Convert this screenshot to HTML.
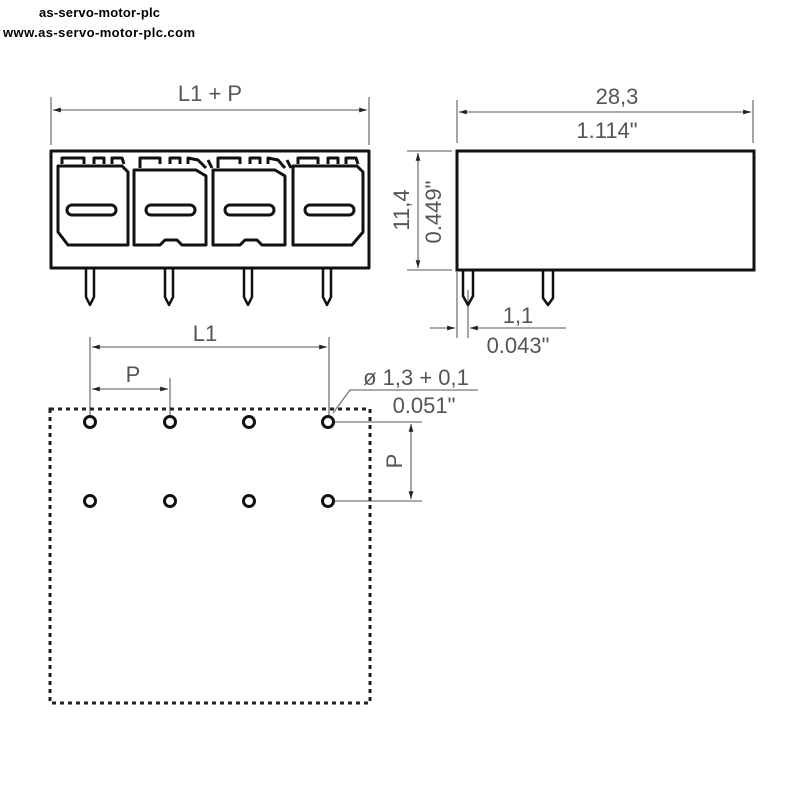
<!DOCTYPE html>
<html><head><meta charset="utf-8"><style>
html,body{margin:0;padding:0;background:#fff;}
svg{display:block;}
.t{font-family:"Liberation Sans",sans-serif;fill:#555;}
.b{font-family:"Liberation Sans",sans-serif;font-weight:bold;fill:#000;font-size:13px;}
</style></head><body>
<svg width="800" height="800" viewBox="0 0 800 800" xmlns="http://www.w3.org/2000/svg">
<defs>
<marker id="a" viewBox="0 0 10 10" refX="10" refY="5" markerWidth="8" markerHeight="6" orient="auto-start-reverse"><path d="M0,2 L10,5 L0,8 z" fill="#222"/></marker>
</defs>
<text class="b" x="39" y="17" textLength="121">as-servo-motor-plc</text>
<text class="b" x="3" y="37" textLength="192">www.as-servo-motor-plc.com</text>

<g stroke="#777" stroke-width="1.3" fill="none">
<line x1="51" y1="97" x2="51" y2="145"/><line x1="369" y1="97" x2="369" y2="145"/>
<line x1="53" y1="110" x2="367" y2="110" marker-start="url(#a)" marker-end="url(#a)"/>
<line x1="457" y1="100" x2="457" y2="143"/><line x1="753" y1="100" x2="753" y2="143"/>
<line x1="459" y1="112" x2="751" y2="112" marker-start="url(#a)" marker-end="url(#a)"/>
<line x1="407" y1="151" x2="452" y2="151"/><line x1="407" y1="270" x2="452" y2="270"/>
<line x1="418" y1="153" x2="418" y2="268" marker-start="url(#a)" marker-end="url(#a)"/>
<line x1="457" y1="272" x2="457" y2="338"/><line x1="468" y1="290" x2="468" y2="338"/>
<line x1="430" y1="328" x2="455" y2="328" marker-end="url(#a)"/>
<line x1="566" y1="328" x2="470" y2="328" marker-end="url(#a)"/>
<line x1="90" y1="337" x2="90" y2="415"/><line x1="329" y1="337" x2="329" y2="415"/>
<line x1="92" y1="347" x2="327" y2="347" marker-start="url(#a)" marker-end="url(#a)"/>
<line x1="170" y1="378" x2="170" y2="415"/>
<line x1="92" y1="389" x2="168" y2="389" marker-start="url(#a)" marker-end="url(#a)"/>
<polyline points="333,413 350,390 478,390"/>
<line x1="334" y1="422" x2="422" y2="422"/><line x1="334" y1="501" x2="422" y2="501"/>
<line x1="411" y1="424" x2="411" y2="499" marker-start="url(#a)" marker-end="url(#a)"/>
</g>

<g class="t" font-size="22" text-anchor="middle">
<text x="210" y="101">L1 + P</text>
<text x="617" y="104">28,3</text>
<text x="607" y="138">1.114"</text>
<text x="518" y="323">1,1</text>
<text x="518" y="353">0.043"</text>
<text x="205" y="341">L1</text>
<text x="133" y="382">P</text>
<text x="416" y="385">ø 1,3 + 0,1</text>
<text x="424" y="413">0.051"</text>
<text transform="translate(409,210) rotate(-90)">11,4</text>
<text transform="translate(441,212) rotate(-90)">0.449"</text>
<text transform="translate(402,461) rotate(-90)">P</text>
</g>

<g stroke="#111" stroke-width="3" fill="none" stroke-linejoin="round">
<rect x="51" y="151" width="318" height="117"/>
<path d="M58,170 L58,232 L68,245 L128,245 L128,172 L122,166 L58,166 Z"/>
<path d="M134,170 L134,245 L160,245 L165,240 L177,240 L182,245 L206,245 L206,176 L196,170 L134,170 Z"/>
<path d="M213,170 L213,245 L240,245 L245,240 L257,240 L262,245 L285,245 L285,176 L275,170 L213,170 Z"/>
<path d="M293,170 L293,245 L352,245 L363,232 L363,172 L357,166 L293,166 Z"/>
<path d="M62,164 L62,158 L84,158 L84,164 M94,164 L94,158 L104,158 L104,164 M112,164 L112,158 L122,158 L124,164"/>
<path d="M140,168 L140,158 L160,158 L160,164 M170,164 L170,158 L180,158 L180,164 M188,164 L188,158 L198,160 L206,168"/>
<path d="M218,168 L218,158 L240,158 L240,164 M250,164 L250,158 L260,158 L260,164 M268,164 L268,158 L278,160 L285,168"/>
<path d="M298,164 L298,158 L318,158 L318,164 M328,164 L328,158 L338,158 L338,164 M346,164 L346,158 L356,158 L358,164"/>
<path d="M208,160 L212,168 M287,160 L291,168"/>
<rect x="67" y="205" width="49" height="10" rx="5"/>
<rect x="146" y="205" width="49" height="10" rx="5"/>
<rect x="225" y="205" width="49" height="10" rx="5"/>
<rect x="305" y="205" width="49" height="10" rx="5"/>
</g>
<g stroke="#111" stroke-width="2.5" fill="none" stroke-linejoin="round">
<path d="M86,268 L86,297 L90,305 L94,297 L94,268"/>
<path d="M165,268 L165,297 L169,305 L173,297 L173,268"/>
<path d="M244,268 L244,297 L248,305 L252,297 L252,268"/>
<path d="M323,268 L323,297 L327,305 L331,297 L331,268"/>
</g>

<g stroke="#111" stroke-width="3" fill="none">
<rect x="457" y="151" width="297" height="119"/>
</g>
<g stroke="#111" stroke-width="2.5" fill="none" stroke-linejoin="round">
<path d="M463,271 L463,296 L468,305 L473,296 L473,271"/>
<path d="M543,271 L543,298 L548,305 L553,298 L553,271"/>
</g>

<rect x="50" y="409" width="320" height="294" fill="none" stroke="#222" stroke-width="3" stroke-dasharray="4 4"/>
<g stroke="#111" stroke-width="3" fill="none">
<circle cx="90" cy="422" r="5.5"/><circle cx="170" cy="422" r="5.5"/><circle cx="249" cy="422" r="5.5"/><circle cx="328" cy="422" r="5.5"/>
<circle cx="90" cy="501" r="5.5"/><circle cx="170" cy="501" r="5.5"/><circle cx="249" cy="501" r="5.5"/><circle cx="328" cy="501" r="5.5"/>
</g>
</svg>
</body></html>
